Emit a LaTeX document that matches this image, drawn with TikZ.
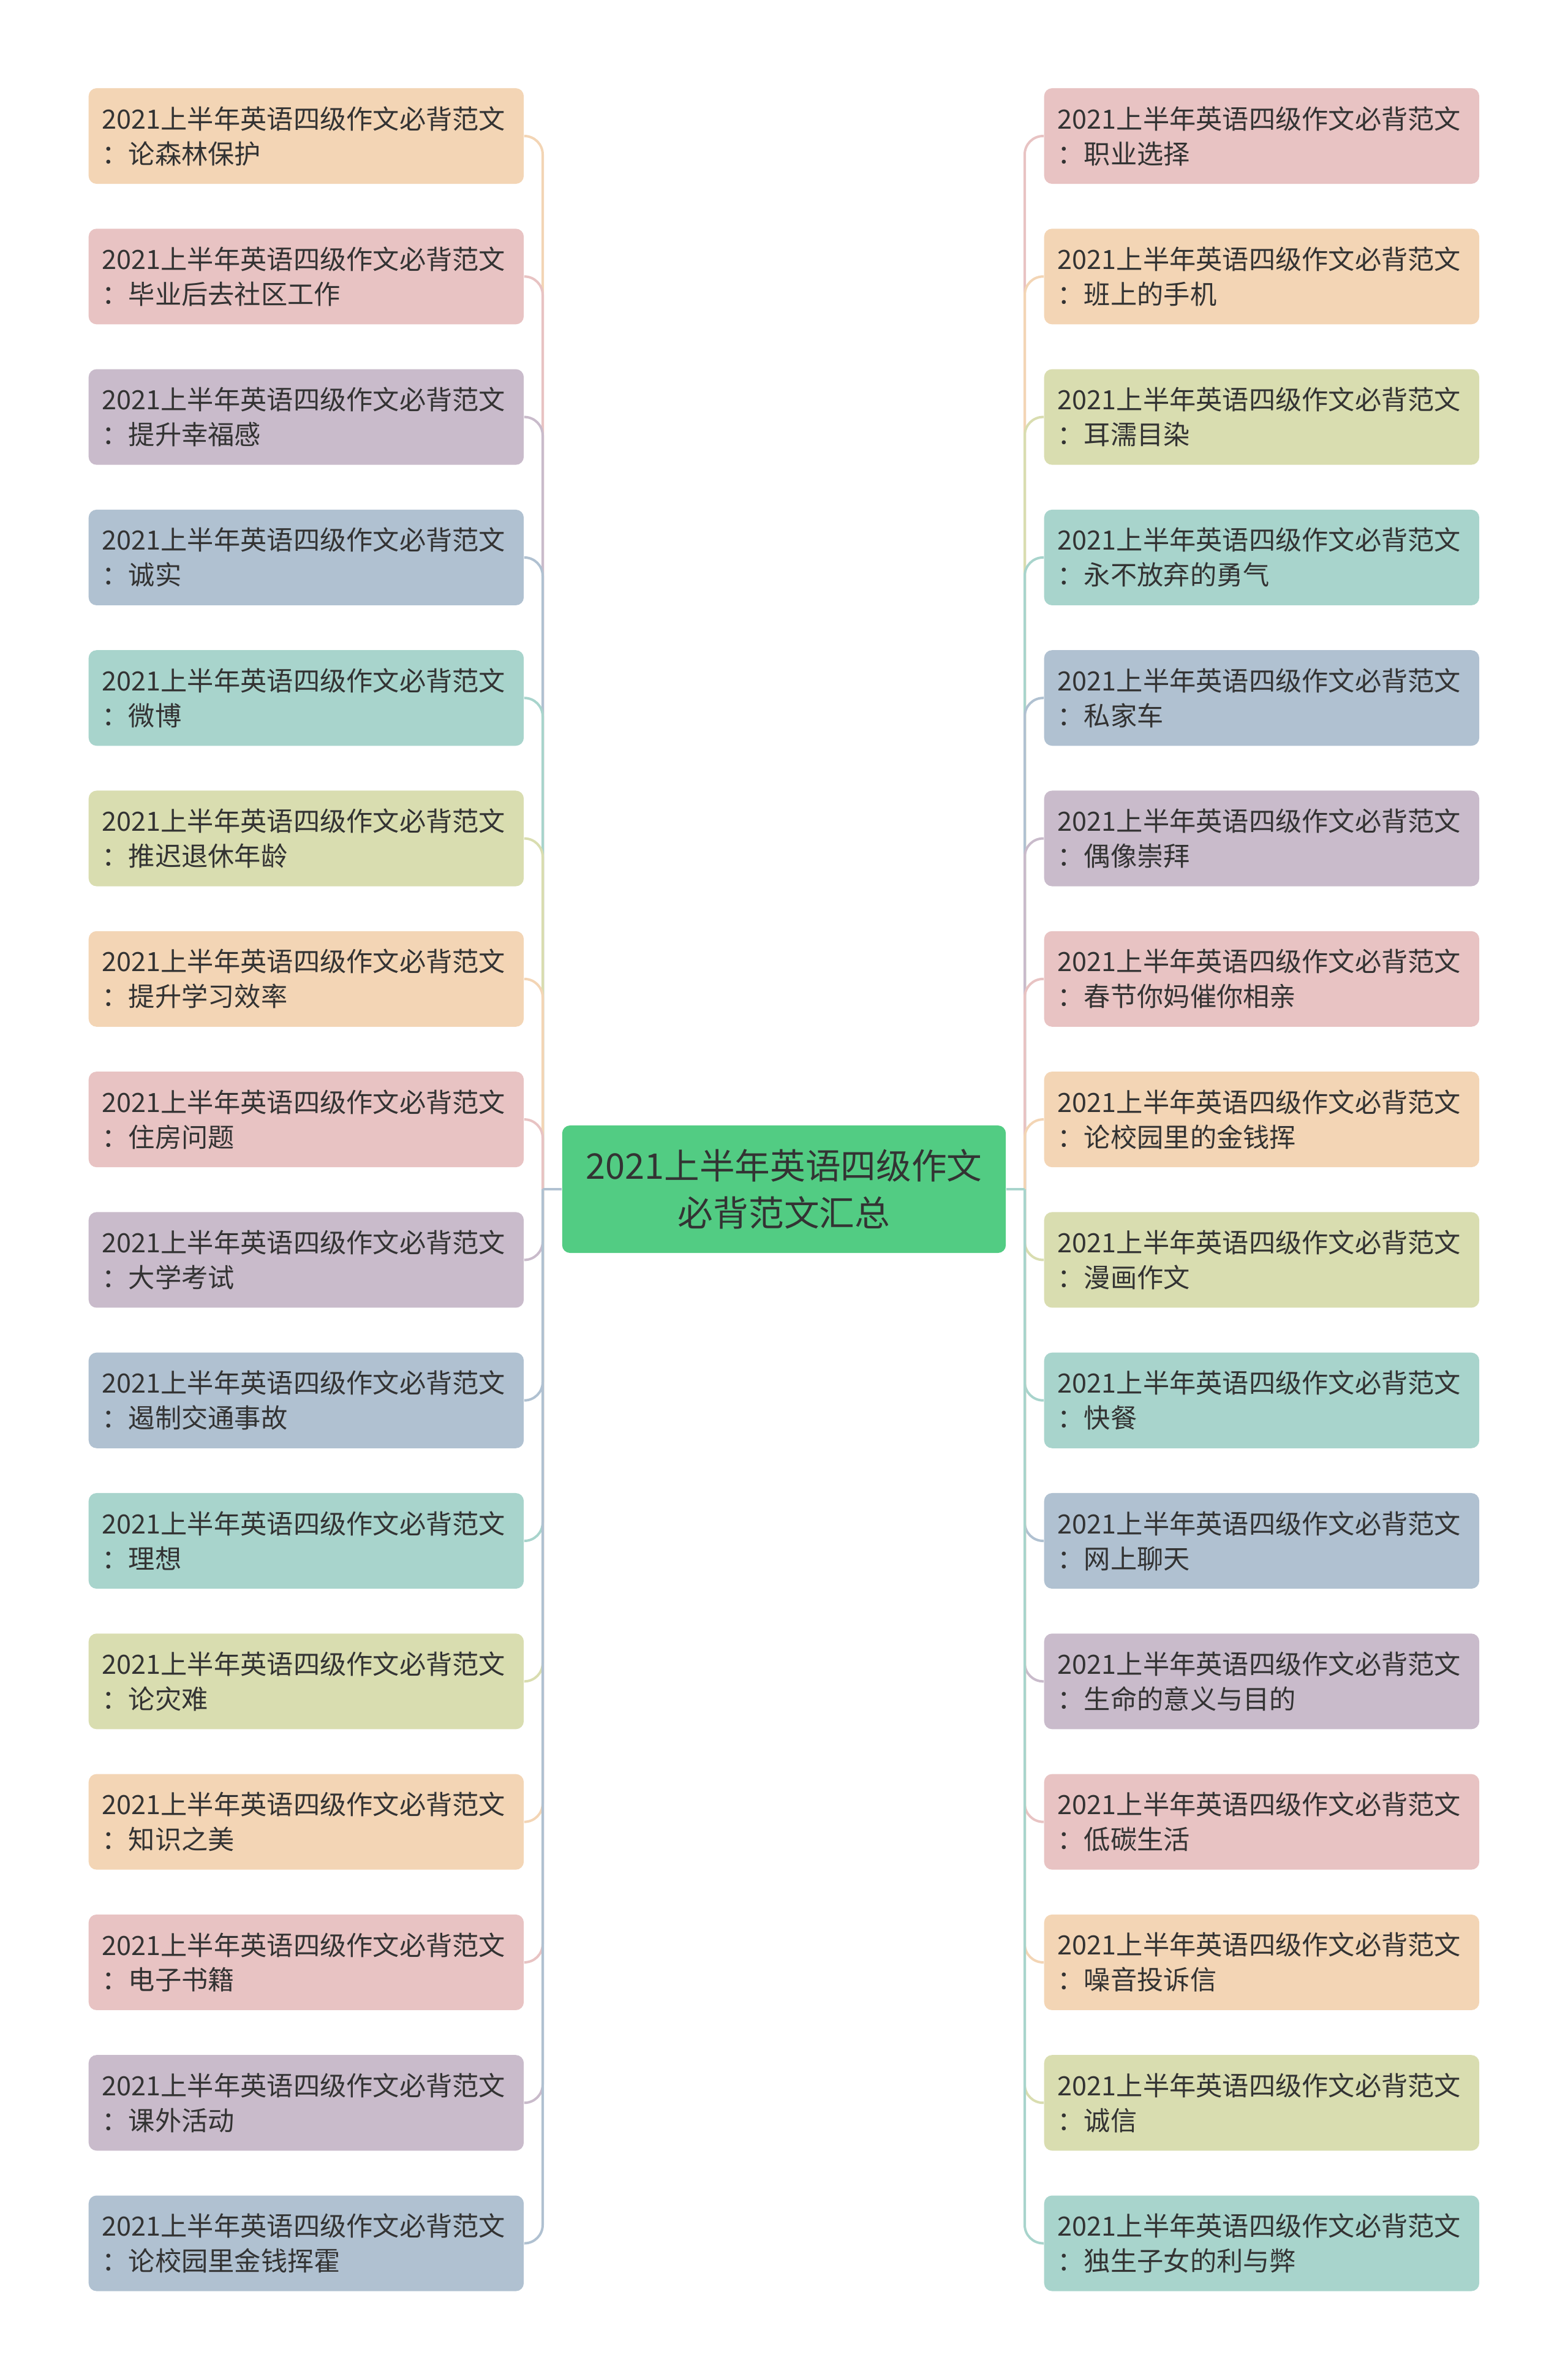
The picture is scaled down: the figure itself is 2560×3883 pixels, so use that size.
\documentclass[tikz,border=0pt]{standalone}
\usepackage{fontspec}
\setmainfont{Noto Sans CJK SC}
\usepackage{xcolor}
\usetikzlibrary{positioning}

\definecolor{peach}{HTML}{F3D5B5}
\definecolor{pink}{HTML}{E8C3C3}
\definecolor{plum}{HTML}{C9BBCB}
\definecolor{slate}{HTML}{B0C1D1}
\definecolor{mint}{HTML}{A8D4CC}
\definecolor{olive}{HTML}{D9DDB0}
\definecolor{rootgreen}{HTML}{52CC83}
\definecolor{txt}{HTML}{333333}

\begin{document}
\begin{tikzpicture}[
  x=0.01cm,y=-0.01cm,
  font=\fontsize{12.3}{16.2}\selectfont,text=txt,
  topic/.style={rounded corners=0.13cm,align=left,text width=6.66cm,
                inner xsep=0.22cm,inner ysep=0pt,minimum height=1.56cm},
  root/.style={fill=rootgreen,rounded corners=0.13cm,align=center,
               minimum width=7.24cm,minimum height=2.08cm,
               font=\fontsize{16.4}{21.9}\selectfont},
  link/.style={line width=0.04cm,rounded corners=0.3cm},
]
  \useasboundingbox (0,0) rectangle (2560,3883);
  \node[root] (c) at (1280,1941) {2021上半年英语四级作文\\必背范文汇总};
  \coordinate (lj) at (886,1941);
  \coordinate (rj) at (1673,1941);
  % left branch
  \foreach \t/\col [count=\i] in {论森林保护/peach,毕业后去社区工作/pink,提升幸福感/plum,
      诚实/slate,微博/mint,推迟退休年龄/olive,提升学习效率/peach,住房问题/pink,
      大学考试/plum,遏制交通事故/slate,理想/mint,论灾难/olive,知识之美/peach,
      电子书籍/pink,课外活动/plum,论校园里金钱挥霍/slate} {
    \node[topic,fill=\col,anchor=west] (l\i) at (144,{222+229.3*(\i-1)})
      {2021上半年英语四级作文必背范文\\：\t};
    \draw[link,\col] (lj) |- (l\i.east);
  }
  % right branch
  \foreach \t/\col [count=\i] in {职业选择/pink,班上的手机/peach,耳濡目染/olive,
      永不放弃的勇气/mint,私家车/slate,偶像崇拜/plum,春节你妈催你相亲/pink,
      论校园里的金钱挥/peach,漫画作文/olive,快餐/mint,网上聊天/slate,
      生命的意义与目的/plum,低碳生活/pink,噪音投诉信/peach,诚信/olive,
      独生子女的利与弊/mint} {
    \node[topic,fill=\col,anchor=west] (r\i) at (1704,{222+229.3*(\i-1)})
      {2021上半年英语四级作文必背范文\\：\t};
    \draw[link,\col] (rj) |- (r\i.west);
  }
  \draw[link,slate] (c.west) -- (lj);
  \draw[link,mint] (c.east) -- (rj);
\end{tikzpicture}
\end{document}
